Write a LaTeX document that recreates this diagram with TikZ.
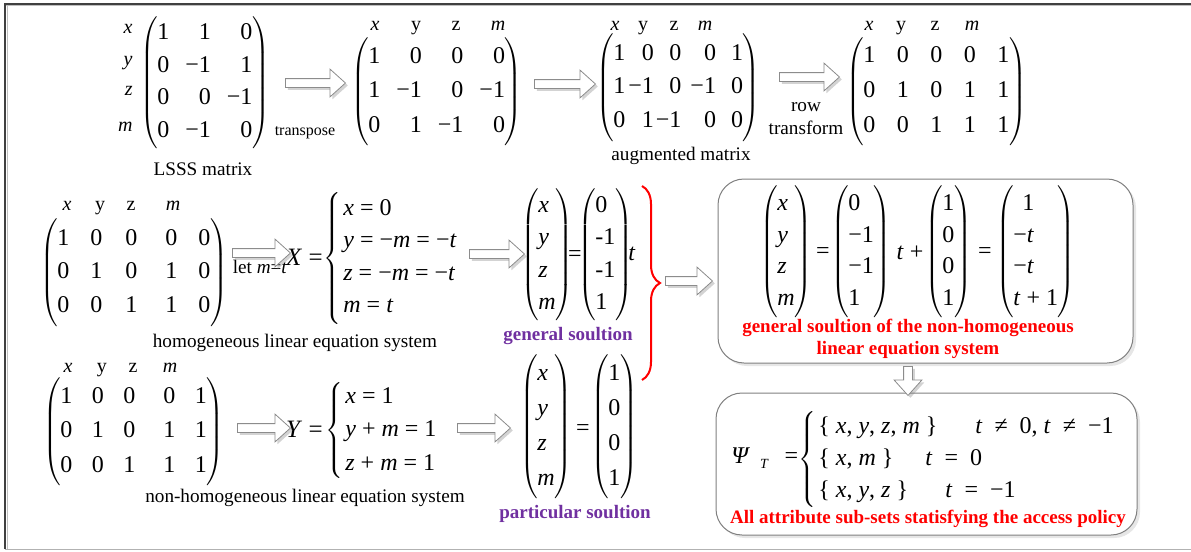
\documentclass[tikz,border=0pt]{standalone}
\usepackage{fontspec}
\setmainfont{Liberation Serif}
\usetikzlibrary{matrix,calc,shapes.arrows,shadows,decorations.pathreplacing}
\definecolor{solpurple}{RGB}{112,48,160}
\newcommand{\harrow}[2]{%
  \path let \p1=($(#2)-(#1)$), \n1={veclen(\x1,\y1)} in
    (#1) -- (#2) node[hollow, midway, sloped, allow upside down, minimum height=\n1] {};}
\tikzset{
  every delimiter/.style={font={\fontsize{8}{9}\selectfont\delimitershortfall4.5pt}},
  every left delimiter/.style={xshift=6pt},
  every right delimiter/.style={xshift=-6pt},
  bracepart/.style={every delimiter/.style={font={\fontsize{7}{8}\selectfont\delimitershortfall4.5pt}},
    every left delimiter/.style={xshift=1.5pt}},
  cell/.style={font=\fontsize{12}{14}\selectfont, text height=9pt, text depth=3pt, inner sep=0pt},
  mat/.style={matrix of nodes, anchor=north west, inner xsep=4.5pt, inner ysep=4pt,
    left delimiter=(, right delimiter=), nodes={cell, anchor=base east}},
  vec/.style={mat, nodes={anchor=base west}},
  sys/.style={matrix of nodes, anchor=north west, inner xsep=1pt, inner ysep=3pt,
    left delimiter=\{, nodes={cell, anchor=base west}},
  sym/.style={font=\fontsize{12}{14}\selectfont, inner sep=0pt},
  hdr/.style={font=\fontsize{10}{12}\selectfont, inner sep=0pt, anchor=base},
  txt/.style={font=\fontsize{9.6}{11.5}\selectfont, inner sep=0pt, anchor=base},
  sol/.style={font=\fontsize{9.5}{11}\selectfont\bfseries, text=solpurple, inner sep=0pt, anchor=base},
  note/.style={font=\fontsize{9.5}{11}\selectfont\bfseries, text=red, inner sep=0pt, align=center},
  hollow/.style={single arrow, draw=black!45, fill=white, inner sep=2pt,
    single arrow head extend=4.75pt, single arrow tip angle=84,
    drop shadow={opacity=0.35, shadow xshift=1.2pt, shadow yshift=-1.2pt}},
  rbox/.style={draw=black!50, fill=white, rounded corners=13pt, line width=0.5pt,
    drop shadow={opacity=0.2, shadow xshift=1.5pt, shadow yshift=-1.5pt}},
  redbrace/.style={draw=red, line width=1pt, decorate, decoration={brace, amplitude=9pt}}
}
\begin{document}
\begin{tikzpicture}[x=0.5pt, y=-0.5pt]
\useasboundingbox (0,0) rectangle (1191,552);
% frame
\draw[line width=1pt, black!75] (4,3.5) -- (1191,3.5);
\draw[line width=0.5pt, black!25] (6,5.5) -- (1191,5.5);
\draw[line width=1pt, black!75] (5,3) -- (5,549);
\draw[line width=0.5pt, black!25] (7,5) -- (7,549);
\draw[line width=0.6pt, black!30] (5,549.5) -- (1191,549.5);

% first row: LSSS matrix and its transforms
\matrix (lsss) [mat, row sep=4.35pt, column sep=8pt] at (148,13) {
  1 & 1 & 0 \\ 0 & −1 & 1 \\ 0 & 0 & −1 \\ 0 & −1 & 0 \\};
\node[hdr, anchor=base east] at (133,33) {\textit{x}};
\node[hdr, anchor=base east] at (133,65) {\textit{y}};
\node[hdr, anchor=base east] at (133,95) {\textit{z}};
\node[hdr, anchor=base east] at (133,131) {\textit{m}};
\node[txt] (lsssl) at (203,175) {LSSS matrix};
\node[txt, font=\fontsize{8}{10}\selectfont] (tpl) at (305,135) {transpose};

\matrix (trans) [mat, row sep=5.25pt, column sep=8pt] at (359,37) {
  1 & 0 & 0 & 0 \\ 1 & −1 & 0 & −1 \\ 0 & 1 & −1 & 0 \\};
\node[hdr] at (375,30) {\textit{x}};
\node[hdr] at (416,30) {y};
\node[hdr] at (456,30) {z};
\node[hdr] at (498,30) {\textit{m}};

\matrix (aug) [mat, row sep=4.75pt, column sep=1pt] at (604,34) {
  1 &[0.5pt] 0 & 0 &[3.5pt] 0 &[6.5pt] 1 \\ 1 & −1 & 0 & −1 & 0 \\ 0 & 1 & −1 & 0 & 0 \\};
\node[hdr] at (615,30) {\textit{x}};
\node[hdr] at (643,30) {y};
\node[hdr] at (674,30) {z};
\node[hdr] at (705,30) {\textit{m}};
\node[txt] (augl) at (681,160) {augmented matrix};
\node[txt, align=center, anchor=center] (rtl) at (806,119) {row\\transform};

\matrix (rowt) [mat, row sep=5.5pt, column sep=10.75pt] at (854,36) {
  1 & 0 & 0 & 0 & 1 \\ 0 & 1 & 0 & 1 & 1 \\ 0 & 0 & 1 & 1 & 1 \\};
\node[hdr] at (869,30) {\textit{x}};
\node[hdr] at (901,30) {y};
\node[hdr] at (935,30) {z};
\node[hdr] at (972,30) {\textit{m}};

% second row: homogeneous system
\matrix (hom) [mat, row sep=4.75pt, column sep=10.5pt] at (48,219) {
  1 & 0 &[1pt] 0 &[3.5pt] 0 & 0 \\ 0 & 1 & 0 & 1 & 0 \\ 0 & 0 & 1 & 1 & 0 \\};
\node[hdr] at (67,210) {\textit{x}};
\node[hdr] at (100,210) {y};
\node[hdr] at (131,210) {z};
\node[hdr] at (173,210) {\textit{m}};
\node[txt] (letl) at (260,273) {let \textit{m}=\textit{t}};
\node[txt] (homl) at (295,347) {homogeneous linear equation system};

\node[cell, anchor=base east, font=\fontsize{12.5}{14}\selectfont] (xeq) at (323,265) {\textit{X} =};
\begin{scope}[bracepart]
\matrix (sysx) [sys, row sep=4.25pt] at (341,191) {
  \textit{x} = 0 \\ \textit{y} = −\textit{m} = −\textit{t} \\
  \textit{z} = −\textit{m} = −\textit{t} \\ \textit{m} = \textit{t} \\};
\end{scope}

\matrix (gx) [vec, row sep=4.25pt] at (529,186) {
  \textit{x} \\ \textit{y} \\ \textit{z} \\ \textit{m} \\};
\node[sym] (geq) at (575,256) {=};
\matrix (gv) [vec, row sep=4.25pt] at (586,186) {
  0 \\ -1 \\ -1 \\ 1 \\};
\node[sym] (gt) at (632,254) {\textit{t}};
\node[sol] (gsl) at (568,340) {general soultion};

% third row: non-homogeneous system
\matrix (nonh) [mat, row sep=5.25pt, column sep=9.75pt] at (51,377) {
  1 & 0 & 0 &[4.25pt] 0 & 1 \\ 0 & 1 & 0 & 1 & 1 \\ 0 & 0 & 1 & 1 & 1 \\};
\node[hdr] at (68,372) {\textit{x}};
\node[hdr] at (102,372) {y};
\node[hdr] at (133,372) {z};
\node[hdr] at (170,372) {\textit{m}};
\node[txt] (nonl) at (305,502) {non-homogeneous linear equation system};

\node[cell, anchor=base east, font=\fontsize{12.5}{14}\selectfont] (yeq) at (323,437) {\textit{Y} =};
\begin{scope}[bracepart]
\matrix (sysy) [sys, row sep=4.75pt] at (343,379) {
  \textit{x} = 1 \\ \textit{y} + \textit{m} = 1 \\ \textit{z} + \textit{m} = 1 \\};
\end{scope}

\matrix (px) [vec, row sep=5.5pt] at (528,354) {
  \textit{x} \\ \textit{y} \\ \textit{z} \\ \textit{m} \\};
\node[sym] (peq) at (583,430) {=};
\matrix (pv) [vec, row sep=5.5pt] at (599,354) {
  1 \\ 0 \\ 0 \\ 1 \\};
\node[sol] (psl) at (575,518) {particular soultion};

% red brace joining both solutions
\coordinate (bt) at (642,186);
\coordinate (bb) at (642,380);
\draw[redbrace] (bt) -- (bb);

% right boxes
\node[rbox, minimum width=207.5pt, minimum height=92pt] (box1) at (925.5,271) {};
\node[rbox, minimum width=210.5pt, minimum height=71pt] (box2) at (926.5,464) {};

\matrix (nx) [vec, row sep=3.85pt] at (768,184) {
  \textit{x} \\ \textit{y} \\ \textit{z} \\ \textit{m} \\};
\node[sym] (neq1) at (823,253) {=};
\matrix (nv1) [vec, row sep=3.85pt] at (839,184) {
  0 \\ −1 \\ −1 \\ 1 \\};
\node[sym] (ntp) at (910,253) {\textit{t} +};
\matrix (nv2) [vec, row sep=3.85pt] at (933,184) {
  1 \\ 0 \\ 0 \\ 1 \\};
\node[sym] (neq2) at (985,253) {=};
\matrix (nv3) [vec, row sep=3.85pt] at (1004,184) {
  \hspace{4.5pt}1 \\ −\textit{t} \\ −\textit{t} \\ \textit{t} + 1 \\};
\node[note] (n1l) at (908,339) {general soultion of the non-homogeneous\\linear equation system};

\node[sym, anchor=base west] (psi) at (731,463)
  {\textit{Ψ}\hspace{5pt}\raisebox{-2.5pt}{\fontsize{7}{8}\selectfont\textit{T}}\hspace{8pt}=};
\begin{scope}[bracepart]
\matrix (sysp) [sys, row sep=4pt] at (816,409) {
  \makebox[78.5pt][l]{\{ \textit{x}, \textit{y}, \textit{z}, \textit{m} \}}\textit{t}\enspace≠\enspace0, \textit{t}\enspace≠\enspace−1 \\
  \makebox[53.5pt][l]{\{ \textit{x}, \textit{m} \}}\textit{t}\enspace=\enspace0 \\
  \makebox[63.5pt][l]{\{ \textit{x}, \textit{y}, \textit{z} \}}\textit{t}\enspace=\enspace−1 \\};
\end{scope}
\node[note, anchor=base] (n2l) at (928,523) {All attribute sub-sets statisfying the access policy};

% hollow arrows
\coordinate (a1s) at (283,83);  \coordinate (a1e) at (343,83);
\coordinate (a2s) at (532,84);  \coordinate (a2e) at (593,84);
\coordinate (a3s) at (777,77);  \coordinate (a3e) at (837,77);
\coordinate (a4s) at (230,253); \coordinate (a4e) at (288,253);
\coordinate (a5s) at (467,254); \coordinate (a5e) at (522,254);
\coordinate (a6s) at (663,281); \coordinate (a6e) at (710,281);
\coordinate (a7s) at (235,428); \coordinate (a7e) at (288,428);
\coordinate (a8s) at (455,428); \coordinate (a8e) at (508,428);
\coordinate (a9s) at (908,364); \coordinate (a9e) at (908,393);
\harrow{a1s}{a1e}
\harrow{a2s}{a2e}
\harrow{a3s}{a3e}
\harrow{a4s}{a4e}
\harrow{a5s}{a5e}
\harrow{a6s}{a6e}
\harrow{a7s}{a7e}
\harrow{a8s}{a8e}
\harrow{a9s}{a9e}
\end{tikzpicture}
\end{document}
